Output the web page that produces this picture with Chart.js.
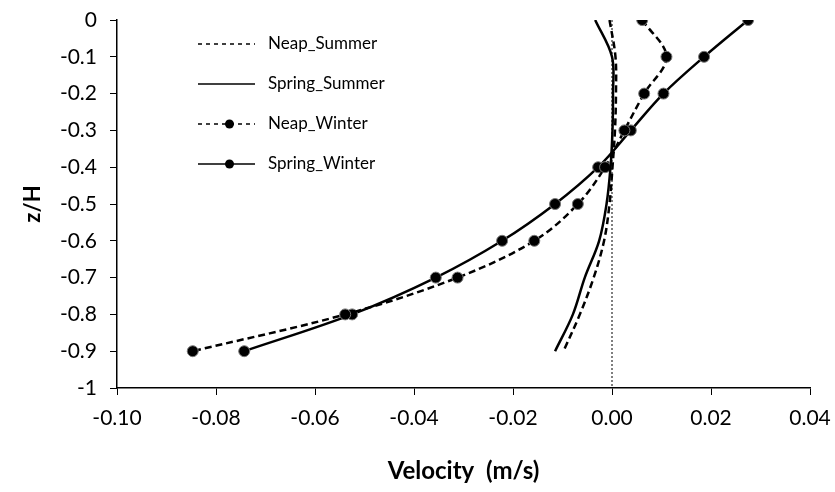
<!DOCTYPE html>
<html>
<head>
<meta charset="utf-8">
<script src="https://cdn.jsdelivr.net/npm/chart.js@4/dist/chart.umd.min.js"></script>
<style>
  html, body { margin: 0; padding: 0; background: #fff; }
  #wrap { width: 835px; height: 492px; }
</style>
</head>
<body>
<div id="wrap"><canvas id="velocityChart" width="835" height="492"></canvas></div>
<script>
// depth levels (z/H) and velocity profiles (m/s)
const depth = [0, -0.1, -0.2, -0.3, -0.4, -0.5, -0.6, -0.7, -0.8, -0.9];
const neapSummer = [-0.0005, 0.0007, 0.0008, 0.0006, 0.0001, -0.0005, -0.0016, -0.0037, -0.0065, -0.0098];
const springSummer = [-0.0034, 0.0000, 0.0002, 0.0001, -0.0003, -0.0011, -0.0026, -0.0055, -0.0079, -0.0115];
const neapWinter = [0.0061, 0.0110, 0.0065, 0.0025, -0.0014, -0.0069, -0.0157, -0.0312, -0.0539, -0.0847];
const springWinter = [0.0275, 0.0186, 0.0104, 0.0038, -0.0028, -0.0115, -0.0222, -0.0356, -0.0525, -0.0743];

const xTicks = [-0.10, -0.08, -0.06, -0.04, -0.02, 0.00, 0.02, 0.04];
const yTicks = [0, -0.1, -0.2, -0.3, -0.4, -0.5, -0.6, -0.7, -0.8, -0.9, -1];

const FONT = "Lato, 'Open Sans', sans-serif";

function profile(values) {
    return values.map((v, i) => ({ x: v, y: depth[i] }));
}

let ctx = document.getElementById('velocityChart');

// legend drawn inside the plot, Excel style
const insideLegend = {
    id: 'insideLegend',
    afterDraw(chart) {
        const c = chart.ctx;
        const items = chart.data.datasets.filter(d => d.label);
        const x0 = 198, x1 = 255, tx = 268;
        let y = 44;
        c.save();
        c.font = "17px " + FONT;
        c.textBaseline = 'middle';
        items.forEach(d => {
            c.beginPath();
            c.strokeStyle = '#000';
            c.lineWidth = 1.5;
            c.setLineDash(d.borderDash && d.borderDash.length ? [4, 4] : []);
            c.moveTo(x0, y);
            c.lineTo(x1, y);
            c.stroke();
            c.setLineDash([]);
            if (d.pointRadius > 0) {
                c.beginPath();
                c.arc((x0 + x1) / 2 + 3, y, 4.5, 0, Math.PI * 2);
                c.fillStyle = '#000';
                c.fill();
            }
            c.fillStyle = '#000';
            c.fillText(d.label, tx, y);
            y += 40;
        });
        c.restore();
    }
};

new Chart(ctx, {
    type: 'scatter',
    data: {
        datasets: [
            {
                label: 'Neap_Summer',
                data: profile(neapSummer),
                showLine: true,
                borderColor: '#000',
                borderWidth: 2.5,
                borderDash: [7, 4],
                pointRadius: 0,
                tension: 0.35
            },
            {
                label: 'Spring_Summer',
                data: profile(springSummer),
                showLine: true,
                borderColor: '#000',
                borderWidth: 2.5,
                pointRadius: 0,
                tension: 0.35
            },
            {
                label: 'Neap_Winter',
                data: profile(neapWinter),
                showLine: true,
                borderColor: '#000',
                borderWidth: 2.5,
                borderDash: [7, 4],
                pointRadius: 5.5,
                pointBackgroundColor: '#000',
                pointBorderColor: '#777',
                pointBorderWidth: 1,
                tension: 0.35
            },
            {
                label: 'Spring_Winter',
                data: profile(springWinter),
                showLine: true,
                borderColor: '#000',
                borderWidth: 2.5,
                pointRadius: 5.5,
                pointBackgroundColor: '#000',
                pointBorderColor: '#777',
                pointBorderWidth: 1,
                tension: 0.35
            },
            {
                // zero reference line
                data: [{ x: 0, y: 0 }, { x: 0, y: -1 }],
                showLine: true,
                borderColor: '#000',
                borderWidth: 1,
                borderDash: [2, 2],
                pointRadius: 0
            }
        ]
    },
    options: {
        responsive: false,
        animation: false,
        layout: { padding: { left: 16, right: 25, top: 20, bottom: 4 } },
        plugins: {
            legend: { display: false },
            tooltip: { enabled: false }
        },
        scales: {
            x: {
                type: 'linear',
                min: -0.10,
                max: 0.04,
                afterBuildTicks: s => { s.ticks = xTicks.map(v => ({ value: v })); },
                afterFit: s => {
                    s.height = 492 - 388 - 4;
                    s.paddingLeft = 0;
                    s.paddingRight = 0;
                },
                ticks: {
                    color: '#000',
                    font: { family: FONT, size: 21 },
                    padding: 11,
                    callback: v => v.toFixed(2)
                },
                grid: { display: true, drawOnChartArea: false, tickLength: 7, color: '#000', lineWidth: 1 },
                border: { color: '#000', width: 1.5 },
                title: {
                    display: true,
                    text: 'Velocity  (m/s)',
                    color: '#000',
                    font: { family: FONT, size: 24, weight: 'bold' },
                    padding: { top: 4, bottom: 2 }
                }
            },
            y: {
                type: 'linear',
                min: -1,
                max: 0,
                afterBuildTicks: s => { s.ticks = yTicks.map(v => ({ value: v })); },
                afterFit: s => {
                    s.width = 117 - 16;
                    s.paddingTop = 0;
                    s.paddingBottom = 0;
                },
                ticks: {
                    color: '#000',
                    font: { family: FONT, size: 21 },
                    padding: 13,
                    callback: v => String(Math.round(v * 10) / 10)
                },
                grid: { display: true, drawOnChartArea: false, tickLength: 7, color: '#000', lineWidth: 1 },
                border: { color: '#000', width: 1.5 },
                title: {
                    display: true,
                    text: 'z/H',
                    color: '#000',
                    font: { family: FONT, size: 22, weight: 'bold' },
                    padding: { top: 4, bottom: 4 }
                }
            }
        }
    },
    plugins: [insideLegend]
});
</script>
</body>
</html>
